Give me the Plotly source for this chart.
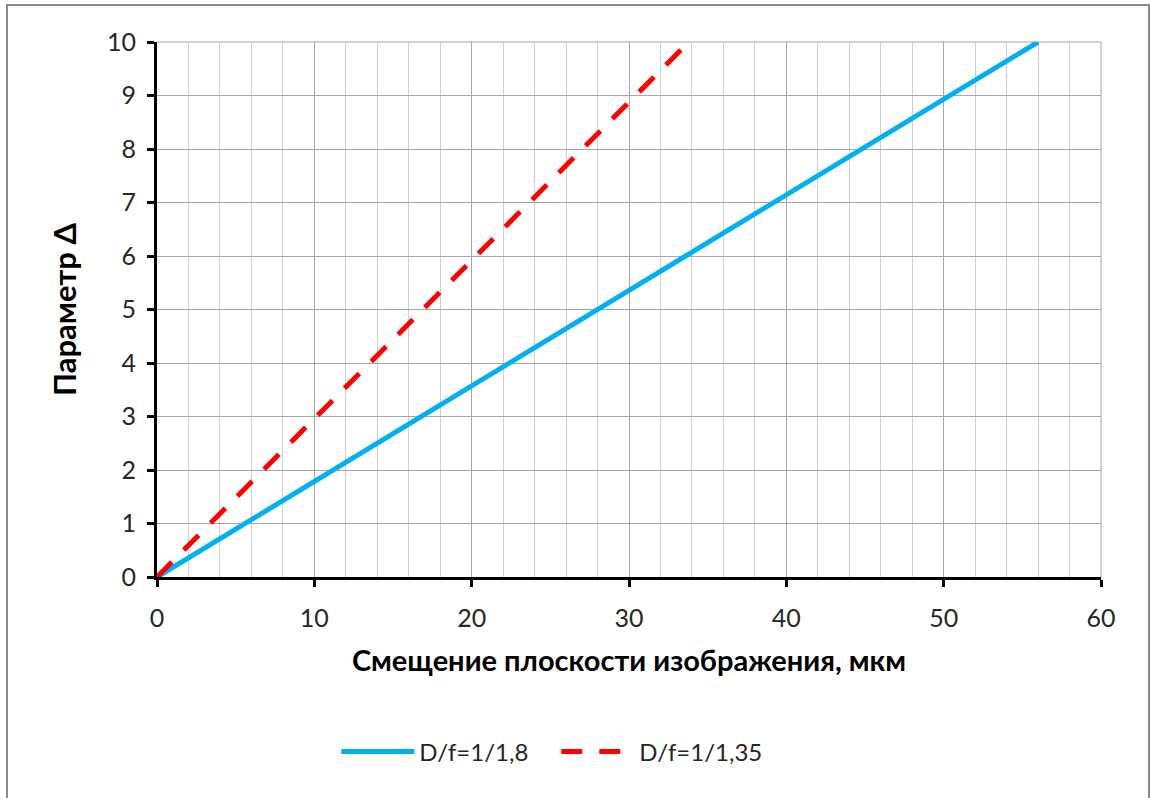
import plotly.graph_objects as go

# Image-plane shift (µm) vs. parameter Δ for two relative apertures
shift_18 = [0, 56]
delta_18 = [0, 10]
shift_135 = [0, 33.8]
delta_135 = [0, 10]

series_names = ["D/f=1/1,8", "D/f=1/1,35"]
x_ticks = [0, 10, 20, 30, 40, 50, 60]
y_ticks = list(range(0, 11))

FONT = "Lato"
TEXT = "#262626"

fig = go.Figure()
fig.add_trace(go.Scatter(
    x=shift_18, y=delta_18, mode="lines", name=series_names[0],
    line=dict(color="#00B0F0", width=5),
))
fig.add_trace(go.Scatter(
    x=shift_135, y=delta_135, mode="lines", name=series_names[1],
    line=dict(color="#FF0000", width=5, dash="21px,17px"),
))

W, H = 1151, 798
L, R, T, B = 157, 50, 42, 221
pw, ph = W - L - R, H - T - B


def px(xp):
    return (xp - L) / pw


def py(yp):
    return (H - B - yp) / ph


# outer chart frame
fig.add_shape(type="rect", xref="paper", yref="paper",
              x0=px(7), x1=px(1149), y0=py(805), y1=py(5),
              line=dict(color="#8c8c8c", width=2), layer="below")

fig.update_layout(
    width=W, height=H,
    margin=dict(l=L, r=R, t=T, b=B),
    paper_bgcolor="white", plot_bgcolor="white",
    font=dict(family=FONT, size=24, color=TEXT),
    showlegend=True,
    legend=dict(orientation="h", x=0.423, xanchor="center",
                y=py(752), yanchor="middle",
                font=dict(family=FONT, size=24, color=TEXT),
                itemwidth=73, entrywidth=132, entrywidthmode="pixels",
                tracegroupgap=0),
    xaxis=dict(
        range=[0, 60], tickvals=x_ticks, ticktext=[str(v) for v in x_ticks],
        showline=True, linecolor="black", linewidth=3,
        ticks="outside", ticklen=7, tickwidth=3, tickcolor="black",
        ticklabelstandoff=10,
        showgrid=True, gridcolor="#a6a6a6", gridwidth=1,
        minor=dict(dtick=2, showgrid=True, gridcolor="#d0d0d0", gridwidth=1),
        zeroline=False,
        title=dict(text="<b>Смещение плоскости изображения, мкм</b>",
                   font=dict(family=FONT, size=29, color="black"), standoff=20),
        tickfont=dict(family=FONT, size=25, color=TEXT),
    ),
    yaxis=dict(
        range=[0, 10], tickvals=y_ticks, ticktext=[str(v) for v in y_ticks],
        showline=True, linecolor="black", linewidth=3,
        ticks="outside", ticklen=7, tickwidth=3, tickcolor="black",
        ticklabelstandoff=6,
        showgrid=True, gridcolor="#a6a6a6", gridwidth=1,
        zeroline=False,
        title=dict(text="<b>Параметр Δ</b>",
                   font=dict(family=FONT, size=31, color="black"), standoff=22),
        tickfont=dict(family=FONT, size=25, color=TEXT),
    ),
)

# right/top plot borders drawn as grid-colored lines
fig.add_shape(type="line", xref="paper", yref="paper", x0=1, x1=1, y0=0, y1=1,
              line=dict(color="#a6a6a6", width=1), layer="below")
fig.add_shape(type="line", xref="paper", yref="paper", x0=0, x1=1, y0=1, y1=1,
              line=dict(color="#a6a6a6", width=1), layer="below")

fig.write_html("out.html")
